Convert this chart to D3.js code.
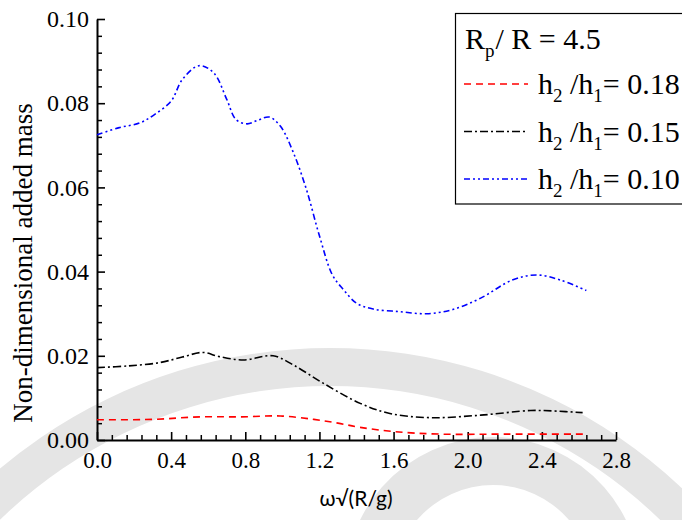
<!DOCTYPE html>
<html>
<head>
<meta charset="utf-8">
<script src="https://cdn.jsdelivr.net/npm/d3@7"></script>
<style>
  html, body { margin: 0; padding: 0; background: #fff; }
  svg { display: block; }
</style>
</head>
<body>
<svg id="chart" width="682" height="520"></svg>
<script>
// Non-dimensional added mass vs. frequency parameter, Rp/R = 4.5
const xTicks = [0.0, 0.4, 0.8, 1.2, 1.6, 2.0, 2.4, 2.8];
const yTicks = [0.00, 0.02, 0.04, 0.06, 0.08, 0.10];

// h2/h1 = 0.18
const freq018 = [0, 0.30, 0.56, 0.78, 0.99, 1.17, 1.30, 1.42, 1.60, 1.85, 2.20, 2.64];
const mass018 = [0.0048, 0.0049, 0.0055, 0.0055, 0.0057, 0.0049, 0.0040, 0.0030, 0.0020, 0.0014, 0.0014, 0.0014];

// h2/h1 = 0.15
const freq015 = [0, 0.17, 0.34, 0.46, 0.57, 0.66, 0.79, 0.95, 1.06, 1.22, 1.42, 1.58, 1.80, 2.07, 2.34, 2.46, 2.62];
const mass015 = [0.0172, 0.0176, 0.0184, 0.0197, 0.0208, 0.0198, 0.0190, 0.0200, 0.0178, 0.0135, 0.0087, 0.0063, 0.0053, 0.0059, 0.0070, 0.0069, 0.0065];

// h2/h1 = 0.10
const freq010 = [0, 0.12, 0.23, 0.31, 0.40, 0.46, 0.55, 0.63, 0.70, 0.75, 0.81, 0.87, 0.93, 0.99, 1.06, 1.13, 1.20, 1.27, 1.33, 1.40, 1.49, 1.63, 1.78, 1.92, 2.07, 2.24, 2.37, 2.50, 2.64];
const mass010 = [0.0725, 0.0742, 0.0753, 0.0773, 0.0805, 0.0856, 0.0889, 0.0872, 0.0809, 0.0761, 0.0751, 0.0760, 0.0767, 0.0745, 0.0682, 0.0595, 0.0485, 0.0392, 0.0357, 0.0325, 0.0311, 0.0305, 0.0300, 0.0310, 0.0337, 0.0380, 0.0392, 0.0380, 0.0355];

const seriesLabels = ["0.18", "0.15", "0.10"];
const seriesColors = ["#ff0000", "#000000", "#0000ff"];
const seriesDashes = ["7,5", "8,3,2,3", "6,3,2,3,2,3"];

const serif = "'Liberation Serif', 'Times New Roman', serif";
const svg = d3.select("#chart");

// faint seal arcs in the page background
const sealFill = "#e5e5e5";
svg.append("path")
  .attr("transform", "translate(330,860)")
  .attr("d", d3.arc()({innerRadius: 474, outerRadius: 512, startAngle: -1.2, endAngle: 1.2}))
  .attr("fill", sealFill);
svg.append("path")
  .attr("transform", "translate(493,585)")
  .attr("d", d3.arc()({innerRadius: 100, outerRadius: 148, startAngle: -1.7, endAngle: 1.7}))
  .attr("fill", sealFill);

const x = d3.scaleLinear().domain([0, 2.8]).range([97, 616]);
const y = d3.scaleLinear().domain([0, 0.10]).range([440, 19]);

// minor ticks
const xMinor = d3.range(0, 2.8001, 0.08).filter(v => Math.abs(v / 0.4 - Math.round(v / 0.4)) > 1e-6);
const yMinor = d3.range(0, 0.10001, 0.004).filter(v => Math.abs(v / 0.02 - Math.round(v / 0.02)) > 1e-6);

svg.append("g").attr("transform", "translate(0,440)")
  .call(d3.axisBottom(x).tickValues(xMinor).tickSize(-5).tickFormat(""))
  .call(g => g.select(".domain").remove())
  .call(g => g.selectAll("line").attr("stroke-width", 1.5));
svg.append("g").attr("transform", "translate(97,0)")
  .call(d3.axisLeft(y).tickValues(yMinor).tickSize(-5).tickFormat(""))
  .call(g => g.select(".domain").remove())
  .call(g => g.selectAll("line").attr("stroke-width", 1.5));

const xAxis = svg.append("g").attr("transform", "translate(0,440)")
  .call(d3.axisBottom(x).tickValues(xTicks).tickSizeInner(-8).tickSizeOuter(0)
    .tickPadding(12).tickFormat(d3.format(".1f")));
xAxis.select(".domain").attr("stroke-width", 2);
xAxis.selectAll("line").attr("stroke-width", 1.6);
xAxis.selectAll("text").attr("font-family", serif).attr("font-size", 23).attr("fill", "#000");

const yAxis = svg.append("g").attr("transform", "translate(97,0)")
  .call(d3.axisLeft(y).tickValues(yTicks).tickSizeInner(-8).tickSizeOuter(0)
    .tickPadding(8).tickFormat(d3.format(".2f")));
yAxis.select(".domain").attr("stroke-width", 2);
yAxis.selectAll("line").attr("stroke-width", 1.6);
yAxis.selectAll("text").attr("font-family", serif).attr("font-size", 24).attr("fill", "#000");

// axis titles
svg.append("text")
  .attr("transform", "translate(32,263) rotate(-90)")
  .attr("text-anchor", "middle")
  .attr("font-family", serif).attr("font-size", 27)
  .text("Non-dimensional added mass");

svg.append("text")
  .attr("x", 356).attr("y", 506)
  .attr("text-anchor", "middle")
  .attr("font-family", "Lato, 'Open Sans', sans-serif").attr("font-size", 21)
  .text("ω√(R/g)");

// curves
const line = d3.line()
  .x(d => x(d[0]))
  .y(d => y(d[1]))
  .curve(d3.curveCatmullRom.alpha(0.5));

const series = [
  d3.zip(freq018, mass018),
  d3.zip(freq015, mass015),
  d3.zip(freq010, mass010)
];

series.forEach((pts, i) => {
  svg.append("path")
    .datum(pts)
    .attr("d", line)
    .attr("fill", "none")
    .attr("stroke", seriesColors[i])
    .attr("stroke-width", 1.6)
    .attr("stroke-dasharray", seriesDashes[i]);
});

// legend
const legend = svg.append("g");
legend.append("rect")
  .attr("x", 455.5).attr("y", 13.5).attr("width", 240).attr("height", 190.5)
  .attr("fill", "#fff").attr("stroke", "#000").attr("stroke-width", 1.2);

const title = legend.append("text")
  .attr("x", 465).attr("y", 49)
  .attr("font-family", serif).attr("font-size", 30);
title.append("tspan").text("R");
title.append("tspan").attr("dy", 8).attr("font-size", 19).text("p");
title.append("tspan").attr("dy", -8).attr("dx", 1).text("/ R = 4.5");

seriesLabels.forEach((lab, i) => {
  const yy = 94 + i * 47.5;
  legend.append("line")
    .attr("x1", 464).attr("x2", 528)
    .attr("y1", yy - 10).attr("y2", yy - 10)
    .attr("stroke", seriesColors[i])
    .attr("stroke-width", 1.6)
    .attr("stroke-dasharray", seriesDashes[i]);
  const t = legend.append("text")
    .attr("x", 538).attr("y", yy)
    .attr("font-family", serif).attr("font-size", 30);
  t.append("tspan").text("h");
  t.append("tspan").attr("dy", 8).attr("font-size", 19).text("2");
  t.append("tspan").attr("dy", -8).text(" /h");
  t.append("tspan").attr("dy", 8).attr("font-size", 19).text("1");
  t.append("tspan").attr("dy", -8).text("= " + lab);
});
</script>
</body>
</html>
